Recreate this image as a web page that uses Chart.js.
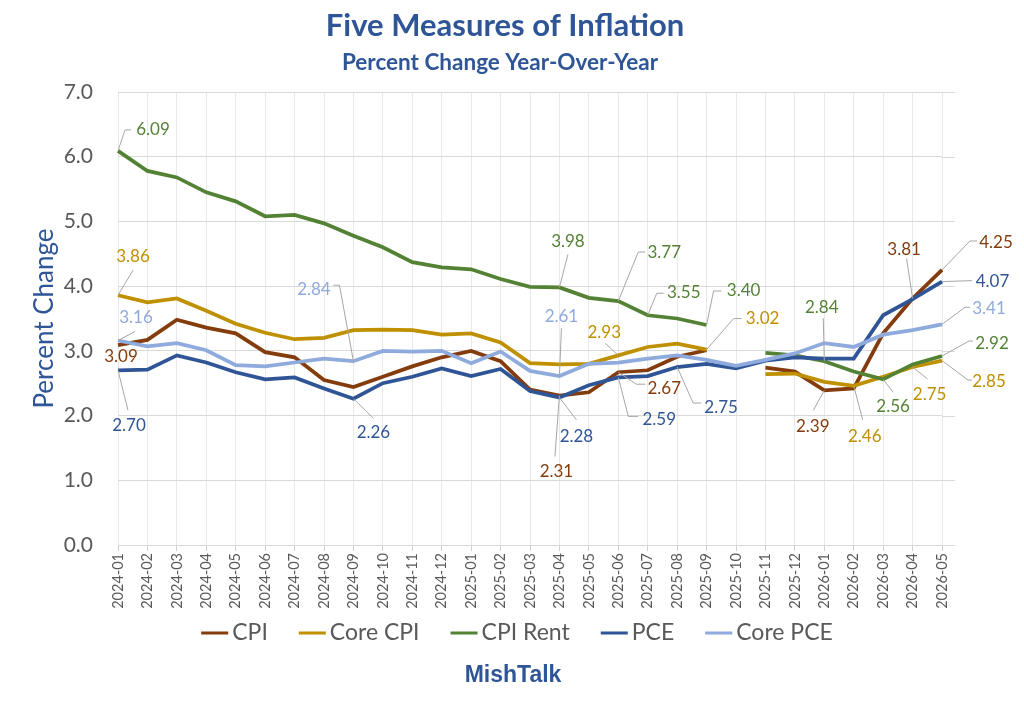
<!DOCTYPE html>
<html>
<head>
<meta charset="utf-8">
<script src="https://cdn.jsdelivr.net/npm/chart.js@4.4.1/dist/chart.umd.min.js"></script>
<style>
  html, body { margin: 0; padding: 0; background: #fff; }
</style>
</head>
<body>
<canvas id="myChart" width="1024" height="716"></canvas>
<script>
const months = [
  "2024-01", "2024-02", "2024-03", "2024-04", "2024-05", "2024-06", "2024-07", "2024-08",
  "2024-09", "2024-10", "2024-11", "2024-12", "2025-01", "2025-02", "2025-03", "2025-04",
  "2025-05", "2025-06", "2025-07", "2025-08", "2025-09", "2025-10", "2025-11", "2025-12",
  "2026-01", "2026-02", "2026-03", "2026-04", "2026-05",
];

const cpi = [3.09, 3.17, 3.48, 3.36, 3.27, 2.98, 2.90, 2.55, 2.44, 2.60, 2.76, 2.90, 3.00, 2.84, 2.40,
  2.31, 2.36, 2.67, 2.70, 2.91, 3.01, null, 2.74, 2.68, 2.39, 2.42, 3.27, 3.81, 4.25];
const coreCpi = [3.86, 3.75, 3.81, 3.62, 3.42, 3.28, 3.18, 3.20, 3.32, 3.33, 3.32, 3.25, 3.27, 3.13, 2.81,
  2.79, 2.80, 2.93, 3.06, 3.11, 3.02, null, 2.64, 2.65, 2.52, 2.46, 2.60, 2.75, 2.85];
const cpiRent = [6.09, 5.78, 5.68, 5.45, 5.31, 5.08, 5.10, 4.97, 4.78, 4.60, 4.37, 4.29, 4.26, 4.11, 3.99,
  3.98, 3.82, 3.77, 3.55, 3.50, 3.40, null, 2.97, 2.93, 2.84, 2.68, 2.56, 2.79, 2.92];
const pce = [2.70, 2.71, 2.93, 2.82, 2.67, 2.56, 2.59, 2.42, 2.26, 2.50, 2.60, 2.73, 2.61, 2.72, 2.38,
  2.28, 2.47, 2.59, 2.61, 2.75, 2.80, 2.73, 2.85, 2.90, 2.88, 2.88, 3.55, 3.80, 4.07];
const corePce = [3.16, 3.07, 3.12, 3.01, 2.78, 2.76, 2.82, 2.88, 2.84, 3.00, 2.99, 3.00, 2.81, 2.99, 2.69,
  2.61, 2.80, 2.82, 2.88, 2.93, 2.86, 2.77, 2.86, 2.96, 3.12, 3.06, 3.25, 3.32, 3.41];

const seriesNames = ["CPI", "Core CPI", "CPI Rent", "PCE", "Core PCE"];
const seriesColors = ["#843C0C", "#BF9000", "#548235", "#2F5597", "#8FAADC"];

// value callouts: series, point, text offset from point, leader elbows (offsets from point)
const callouts = [
  [0, 0, 3, 11, []],
  [0, 15, -3, 76, [[-4.5, 61]]],
  [0, 17, 46, 16, [[18, 12], [27, 12]]],
  [0, 24, -11.5, 36, [[-11, 20]]],
  [0, 27, -8.5, -48.5, [[-6, -40]]],
  [0, 28, 54, -27.5, [[28, -29], [35, -29]]],
  [1, 0, 15, -38.5, [[15, -25]]],
  [1, 17, -14, -23, [[-13, -12]]],
  [1, 20, 56, -31, [[27, -31], [35, -31]]],
  [1, 25, 11, 51, [[9, 34]]],
  [1, 27, 17, 27, [[15, 12]]],
  [1, 28, 47, 21, [[26, 19.5], [30, 19.5]]],
  [2, 0, 35, -21.5, [[7, -21], [13, -21]]],
  [2, 15, 8.5, -46, [[8.5, -33]]],
  [2, 17, 46, -49, [[20, -49], [27, -49]]],
  [2, 18, 36, -23, [[9, -22], [16, -22]]],
  [2, 20, 37, -34, [[7, -34], [15, -34]]],
  [2, 24, -2.5, -54, [[-1, -43]]],
  [2, 26, 10, 27, [[10, 13]]],
  [2, 28, 50, -13, [[27, -15], [31, -15]]],
  [3, 0, 11, 55, [[10, 40]]],
  [3, 8, 20, 34, [[20, 19.5]]],
  [3, 15, 17, 39, [[17, 22.5]]],
  [3, 17, 41, 42, [[10, 39], [20, 39]]],
  [3, 19, 44, 40, [[16, 36], [24, 36]]],
  [3, 28, 50.5, 0, [[30, -1]]],
  [4, 0, 18, -23, [[17, -9]]],
  [4, 8, -39.5, -72, [[-14, -76], [-20, -76]]],
  [4, 15, 2, -59.5, [[2, -48]]],
  [4, 28, 47, -16, [[23, -17], [28, -17]]],
];

const BLUE = "#2F5597";
const GRAY = "#595959";

const decorations = {
  id: "decorations",
  beforeDatasetsDraw(chart) {
    // Excel grid runs a little past the last category
    const ctx = chart.ctx, area = chart.chartArea, y = chart.scales.y;
    ctx.save();
    ctx.strokeStyle = "#d9d9d9";
    ctx.lineWidth = 1;
    y.ticks.forEach((t) => {
      const py = Math.round(y.getPixelForValue(t.value)) + 0.5;
      ctx.beginPath();
      ctx.moveTo(area.right, py);
      ctx.lineTo(area.right + 13, py);
      ctx.stroke();
    });
    ctx.restore();
  },
  afterDatasetsDraw(chart) {
    const ctx = chart.ctx;
    ctx.save();
    ctx.font = "17px Lato";
    ctx.textAlign = "center";
    ctx.textBaseline = "middle";
    callouts.forEach(([s, i, dx, dy, path]) => {
      const pt = chart.getDatasetMeta(s).data[i];
      if (path.length) {
        ctx.strokeStyle = "#a6a6a6";
        ctx.lineWidth = 1;
        ctx.beginPath();
        ctx.moveTo(pt.x, pt.y);
        path.forEach(([px, py]) => ctx.lineTo(pt.x + px, pt.y + py));
        ctx.stroke();
      }
      ctx.fillStyle = seriesColors[s];
      ctx.fillText(chart.data.datasets[s].data[i].toFixed(2), pt.x + dx, pt.y + dy);
    });
    ctx.restore();
  },
  afterDraw(chart) {
    const ctx = chart.ctx;
    ctx.save();
    ctx.fillStyle = BLUE;
    ctx.textAlign = "center";
    ctx.textBaseline = "alphabetic";
    ctx.font = "bold 31px Lato";
    ctx.fillText("Five Measures of Inflation", 505, 36);
    ctx.font = "bold 22.5px Lato";
    ctx.fillText("Percent Change Year-Over-Year", 500, 70);
    ctx.font = "bold 23px 'Liberation Sans'";
    ctx.fillText("MishTalk", 513, 682);

    // legend
    ctx.font = "23px Lato";
    const lineW = 27, gap = 4, spacing = 31;
    const widths = seriesNames.map((n) => ctx.measureText(n).width);
    const total = widths.reduce((a, w) => a + lineW + gap + w, 0) + spacing * (seriesNames.length - 1);
    let x = 517 - total / 2;
    const ly = 633;
    ctx.textAlign = "left";
    ctx.textBaseline = "middle";
    seriesNames.forEach((n, k) => {
      ctx.fillStyle = seriesColors[k];
      ctx.fillRect(x, ly - 1.5, lineW, 3);
      x += lineW + gap;
      ctx.fillStyle = GRAY;
      ctx.fillText(n, x, ly);
      x += widths[k] + spacing;
    });
    ctx.restore();
  },
};

const seriesData = [cpi, coreCpi, cpiRent, pce, corePce];

const config = {
  type: "line",
  data: {
    labels: months,
    datasets: seriesData.map((d, k) => ({
      label: seriesNames[k],
      data: d,
      borderColor: seriesColors[k],
      backgroundColor: seriesColors[k],
      borderWidth: 3.75,
      pointRadius: 0,
      tension: 0,
      spanGaps: false,
      order: 5 - k,
    })),
  },
  options: {
    responsive: false,
    animation: false,
    layout: { padding: { top: 92, right: 82, bottom: 0, left: 0 } },
    plugins: {
      legend: { display: false },
      title: { display: false },
      tooltip: { enabled: false },
    },
    scales: {
      x: {
        grid: { color: "#e9e9e9", tickColor: "#d0d0d0", tickLength: 6 },
        border: { color: "#d9d9d9" },
        ticks: {
          color: GRAY,
          font: { family: "Lato", size: 14.5 },
          minRotation: 90,
          maxRotation: 90,
          autoSkip: false,
          padding: 2,
        },
        afterFit(scale) { scale.height = 171; },
      },
      y: {
        min: 0,
        max: 7,
        grid: { color: "#d9d9d9", drawTicks: false },
        border: { display: false },
        ticks: {
          stepSize: 1,
          color: GRAY,
          font: { family: "Lato", size: 21 },
          padding: 25,
          callback: (v) => v.toFixed(1),
        },
        title: {
          display: true,
          text: "Percent Change",
          color: BLUE,
          font: { family: "Lato", size: 26 },
          padding: { top: 29, bottom: 0 },
        },
        afterFit(scale) { scale.width = 118; },
      },
    },
  },
  plugins: [decorations],
};

var myChart = new Chart(document.getElementById("myChart"), config);
</script>
</body>
</html>
